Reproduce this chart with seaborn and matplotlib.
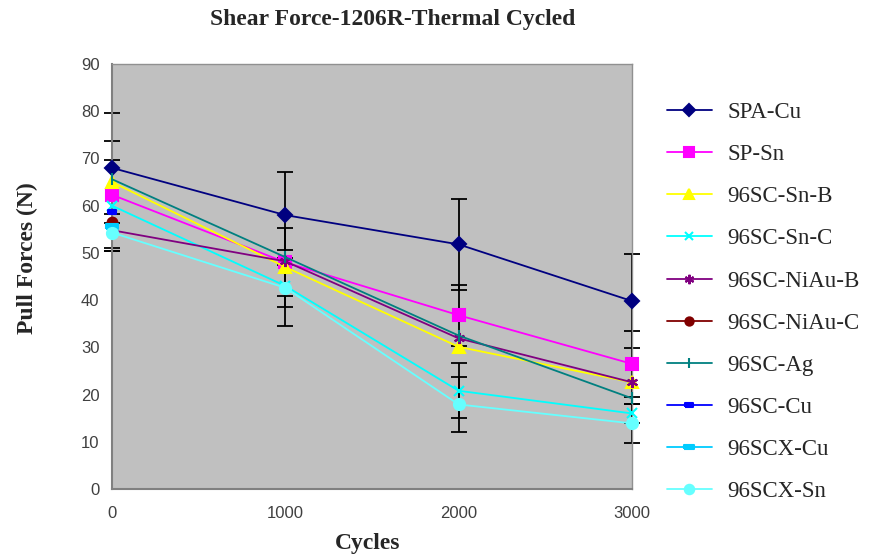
import numpy as np
import pandas as pd
import matplotlib
matplotlib.use("Agg")
import matplotlib.pyplot as plt
import seaborn as sns

cycles = [0, 1000, 2000, 3000]
series_names = ["SPA-Cu", "SP-Sn", "96SC-Sn-B", "96SC-Sn-C", "96SC-NiAu-B",
                "96SC-NiAu-C", "96SC-Ag", "96SC-Cu", "96SCX-Cu", "96SCX-Sn"]
spa_cu = [68.0, 58.0, 51.8, 39.8]
sp_sn = [62.3, 48.0, 36.8, 26.5]
sc_sn_b = [65.0, 47.0, 30.1, 22.6]
sc_sn_c = [60.0, 43.0, 20.8, 16.0]
sc_niau_b = [54.8, 48.2, 31.9, 22.6]
sc_niau_c = [56.6, np.nan, np.nan, np.nan]
sc_ag = [65.6, 49.1, 32.5, 19.2]
sc_cu = [58.7, np.nan, np.nan, np.nan]
scx_cu = [55.8, np.nan, np.nan, np.nan]
scx_sn = [54.3, 42.6, 17.9, 13.9]

err_spa_cu = [11.6, 9.1, 9.6, 10.0]
err_sp_sn = [11.3, 7.2, 6.5, 7.0]
err_sc_sn_c = [9.7, 4.5, 5.8, 2.1]
err_scx_sn = [4.0, 8.0, 5.8, 4.2]

values = [spa_cu, sp_sn, sc_sn_b, sc_sn_c, sc_niau_b, sc_niau_c, sc_ag, sc_cu, scx_cu, scx_sn]
errors = {"SPA-Cu": err_spa_cu, "SP-Sn": err_sp_sn, "96SC-Sn-C": err_sc_sn_c, "96SCX-Sn": err_scx_sn}

colors = ["#000080", "#FF00FF", "#FFFF00", "#00FFFF", "#800080",
          "#800000", "#008080", "#0000FF", "#00CCFF", "#66FFFF"]
bar_marker = [(-1, -0.45), (1, -0.45), (1, 0.45), (-1, 0.45), (-1, -0.45)]
markers = ["D", "s", "^", "x", (6, 2, 0), "o", "|", bar_marker, bar_marker, "o"]
msizes = [7, 8, 8, 7, 8, 7, 9, 6, 8, 8]

sns.set_theme(style="white")
plt.rcParams["font.family"] = ["Liberation Serif", "DejaVu Serif"]

fig = plt.figure(figsize=(8.69, 5.59), dpi=100)
ax = fig.add_axes([112/869, 70/559, 520/869, 425/559])
ax.set_facecolor("#C0C0C0")

rows = []
for name, vals in zip(series_names, values):
    for c, v in zip(cycles, vals):
        rows.append({"Cycles": c, "Force": v, "Series": name})
df = pd.DataFrame(rows)

for name in errors:
    vals = values[series_names.index(name)]
    ax.errorbar(cycles, vals, yerr=errors[name], fmt="none", ecolor="black",
                elinewidth=1.3, capsize=6, capthick=1.3, zorder=2, clip_on=False)

for i, name in enumerate(series_names):
    sub = df[df["Series"] == name]
    sns.lineplot(data=sub, x="Cycles", y="Force", ax=ax, color=colors[i],
                 marker=markers[i], markersize=msizes[i], linewidth=1.3,
                 markeredgecolor=colors[i], markeredgewidth=1.5,
                 label=name, zorder=3, errorbar=None, clip_on=False)

ax.set_xlim(0, 3000)
ax.set_ylim(0, 90)
ax.set_xticks([0, 1000, 2000, 3000])
ax.set_xticks([500, 1500, 2500], minor=True)
ax.set_yticks(range(0, 91, 10))
for lab in ax.get_xticklabels() + ax.get_yticklabels():
    lab.set_fontfamily("Liberation Sans")
    lab.set_fontsize(12)
    lab.set_color("#404040")
ax.tick_params(axis="x", which="both", direction="in", length=6, color="#808080", width=1, pad=12)
ax.tick_params(axis="y", direction="out", length=5, color="#808080", width=1, pad=4)
for s in ["top", "right"]:
    ax.spines[s].set_color("#909090")
    ax.spines[s].set_linewidth(1.0)
for s in ["left", "bottom"]:
    ax.spines[s].set_color("#808080")
    ax.spines[s].set_linewidth(1.5)

ax.set_xlabel("Cycles", fontsize=17, fontweight="bold")
ax.set_ylabel("Pull Forces (N)", fontsize=17, fontweight="bold")
ax.xaxis.set_label_coords(0.492, -0.103)
ax.yaxis.set_label_coords(-0.142, 0.543)
fig.text(393/869, 1 - 20/559, "Shear Force-1206R-Thermal Cycled", ha="center", va="center",
         fontsize=17, fontweight="bold")

leg = ax.legend(loc="upper left", bbox_to_anchor=(667/869, 1 - 102/559),
                bbox_transform=fig.transFigure, frameon=False, fontsize=16.5,
                handlelength=1.95, labelspacing=0.92, handletextpad=0.7,
                borderpad=0, borderaxespad=0, markerscale=0.85)

fig.savefig("out.png", dpi=100)
